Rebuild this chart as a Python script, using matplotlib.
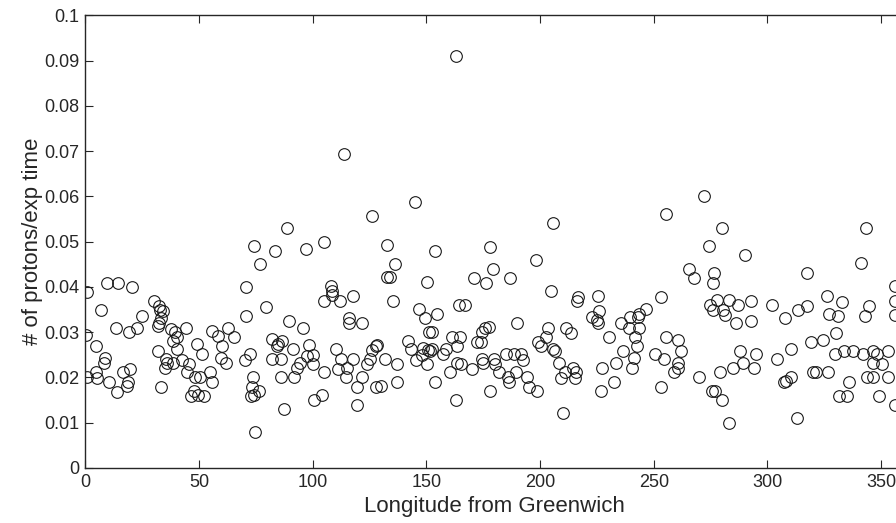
import matplotlib
matplotlib.use("Agg")
import matplotlib.pyplot as plt
import numpy as np

plt.rcParams['font.family'] = ['Liberation Sans', 'DejaVu Sans']

lon = [
    0.9, 9.7, 14.2, 20.4, 6.8, 24.8, 13.5, 19.4, 22.6, 0.3, 4.6, 8.7, 8.2, 0.9, 4.6, 5.0,
    10.3, 13.8, 16.7, 19.7, 18.9, 18.2, 30.2, 32.4, 32.8, 34.3, 33.3, 32.6, 32.1, 37.5,
    39.4, 40.2, 38.7, 44.3, 40.2, 32.1, 42.4, 35.5, 36.1, 38.4, 35.0, 44.6, 33.3, 46.3,
    88.6, 74.2, 83.4, 77.0, 70.7, 79.6, 70.7, 89.6, 55.9, 62.9, 58.2, 65.4, 60.2, 49.0,
    51.5, 59.7, 61.9, 45.6, 48.2, 50.4, 54.8, 55.9, 47.9, 49.7, 52.3, 72.4, 70.2, 73.6,
    73.2, 76.4, 74.2, 72.9, 74.7, 82.2, 84.9, 86.6, 84.2, 82.2, 85.9, 91.5, 85.9, 91.9,
    87.5,
    113.9, 126.1, 105.0, 97.1, 132.8, 136.2, 133.9, 132.6, 108.0, 108.6, 108.3, 105.1,
    112.0, 117.9, 135.2, 116.0, 115.8, 121.5, 95.9, 98.5, 100.3, 97.4, 94.4, 93.0, 100.0,
    105.1, 110.2, 112.3, 111.3, 115.2, 114.6, 117.9, 121.5, 119.3, 119.3, 104.0, 100.6,
    123.8, 125.2, 126.0, 127.8, 128.4, 131.8, 137.2, 127.8, 129.9, 136.9,
    162.9, 145.0, 153.8, 177.8, 179.4, 150.4, 171.1, 176.1, 146.7, 149.4, 154.5, 164.3,
    167.0, 151.3, 152.3, 142.0, 143.2, 148.7, 150.6, 151.6, 152.3, 147.9, 145.3, 150.1,
    157.4, 158.6, 161.4, 164.8, 163.3, 174.3, 175.8, 177.5, 172.1, 174.0, 153.8, 160.4,
    163.3, 165.1, 162.9, 169.9, 174.6, 175.0, 179.7, 180.2, 181.9, 178.0,
    184.8, 205.8, 198.2, 186.8, 204.8, 216.8, 216.4, 225.6, 226.0, 222.7, 224.9, 225.6,
    190.0, 203.6, 211.4, 213.6, 202.6, 199.2, 200.3, 205.9, 206.5, 188.7, 191.5, 192.6,
    189.4, 186.0, 186.5, 194.4, 195.1, 198.5, 208.3, 210.9, 209.2, 214.3, 215.8, 215.4,
    210.2, 227.4, 226.7, 230.1,
    272.2, 255.4, 274.3, 265.5, 267.8, 276.4, 276.2, 253.0, 274.7, 276.2, 246.6, 243.5,
    242.9, 239.5, 235.6, 239.1, 243.5, 241.7, 242.5, 236.6, 241.4, 240.3, 233.4, 232.6,
    255.4, 260.5, 262.0, 250.5, 254.5, 260.5, 260.5, 258.9, 253.2, 269.9, 275.7, 276.9,
    280.0, 290.1, 317.2, 277.9, 283.2, 287.2, 292.7, 280.6, 281.3, 286.1, 292.7, 302.0,
    307.7, 313.5, 317.5, 287.9, 294.9, 289.4, 285.0, 294.1, 279.1, 304.0, 310.2, 319.0,
    310.2, 307.4, 308.0, 319.9, 321.3, 279.8, 283.2, 313.1,
    343.3, 341.0, 356.0, 356.0, 356.0, 326.3, 332.9, 327.2, 331.1, 344.8, 342.9, 330.1,
    324.5, 329.7, 333.6, 337.7, 342.2, 346.5, 348.0, 353.1, 346.2, 350.5, 326.7, 336.0,
    343.6, 346.2, 353.1, 331.6, 334.8, 349.2, 356.0,
]

protons = [
    .0388, .0409, .0409, .0400, .0350, .0336, .0310, .0300, .0310, .0294, .0270, .0242,
    .0231, .0200, .0211, .0199, .0191, .0168, .0211, .0219, .0189, .0181, .0370, .0358,
    .0349, .0347, .0332, .0321, .0314, .0306, .0301, .0290, .0281, .0310, .0262, .0259,
    .0239, .0240, .0231, .0233, .0220, .0211, .0178, .0158,
    .0530, .0490, .0480, .0451, .0399, .0356, .0336, .0325, .0303, .0310, .0292, .0290,
    .0270, .0273, .0252, .0242, .0231, .0230, .0200, .0200, .0211, .0189, .0171, .0161,
    .0159, .0251, .0239, .0200, .0180, .0171, .0161, .0159, .0079, .0284, .0274, .0281,
    .0270, .0240, .0240, .0263, .0200, .0200, .0130,
    .0693, .0557, .0500, .0483, .0493, .0450, .0421, .0421, .0402, .0390, .0382, .0370,
    .0369, .0381, .0370, .0331, .0321, .0320, .0310, .0272, .0250, .0247, .0231, .0220,
    .0229, .0211, .0262, .0240, .0218, .0220, .0200, .0240, .0200, .0178, .0139, .0161,
    .0150, .0230, .0240, .0261, .0269, .0272, .0240, .0230, .0178, .0181, .0191,
    .0910, .0587, .0480, .0489, .0440, .0410, .0419, .0409, .0351, .0331, .0340, .0360,
    .0360, .0300, .0300, .0281, .0262, .0264, .0261, .0259, .0262, .0250, .0239, .0230,
    .0251, .0262, .0290, .0290, .0270, .0301, .0309, .0312, .0279, .0279, .0191, .0211,
    .0231, .0230, .0150, .0219, .0240, .0231, .0240, .0230, .0211, .0170,
    .0251, .0541, .0459, .0420, .0390, .0378, .0370, .0380, .0347, .0333, .0328, .0320,
    .0320, .0310, .0310, .0299, .0290, .0279, .0270, .0262, .0259, .0251, .0251, .0239,
    .0211, .0200, .0191, .0200, .0180, .0170, .0231, .0211, .0199, .0220, .0211, .0199,
    .0121, .0220, .0170, .0290,
    .0601, .0560, .0490, .0439, .0419, .0430, .0409, .0377, .0360, .0349, .0351, .0340,
    .0334, .0334, .0320, .0310, .0310, .0290, .0270, .0259, .0242, .0220, .0231, .0191,
    .0290, .0283, .0259, .0251, .0240, .0231, .0220, .0211, .0180, .0200, .0170, .0170,
    .0530, .0470, .0430, .0371, .0371, .0360, .0370, .0349, .0339, .0320, .0325, .0360,
    .0331, .0349, .0358, .0259, .0251, .0231, .0220, .0220, .0211, .0240, .0262, .0279,
    .0200, .0191, .0192, .0211, .0211, .0150, .0100, .0110,
    .0530, .0452, .0401, .0370, .0339, .0380, .0367, .0340, .0336, .0358, .0336, .0299,
    .0283, .0251, .0259, .0259, .0252, .0259, .0252, .0259, .0231, .0230, .0211, .0191,
    .0200, .0200, .0200, .0159, .0159, .0158, .0139,
]

xticks = [0, 50, 100, 150, 200, 250, 300, 350]
yticks = [0, 0.01, 0.02, 0.03, 0.04, 0.05, 0.06, 0.07, 0.08, 0.09, 0.1]
yticklabels = ['0', '0.01', '0.02', '0.03', '0.04', '0.05', '0.06', '0.07', '0.08', '0.09', '0.1']

fig = plt.figure(figsize=(8.96, 5.23), dpi=100)
ax = fig.add_axes([85.3 / 896, 55 / 523, 818.6 / 896, 452.7 / 523])

ax.plot(lon, protons, linestyle='none', marker='o', markersize=8.4,
        markerfacecolor='none', markeredgecolor='#1a1a1a', markeredgewidth=0.8)

ax.set_xlim(0, 360)
ax.set_ylim(0, 0.1)
ax.set_xticks(xticks)
ax.set_xticklabels([str(t) for t in xticks])
ax.set_yticks(yticks)
ax.set_yticklabels(yticklabels)

txtc = '#262626'
ax.tick_params(direction='in', length=5.8, width=0.8, top=True, right=True,
               labelsize=13, colors='#262626', labelcolor=txtc, pad=4)
for s in ax.spines.values():
    s.set_linewidth(1.0)
    s.set_color('#262626')

ax.set_xlabel('Longitude from Greenwich', fontsize=16, color=txtc, labelpad=4)
ax.set_ylabel('# of protons/exp time', fontsize=16, color=txtc, labelpad=1)

fig.savefig('out.png', dpi=100)
